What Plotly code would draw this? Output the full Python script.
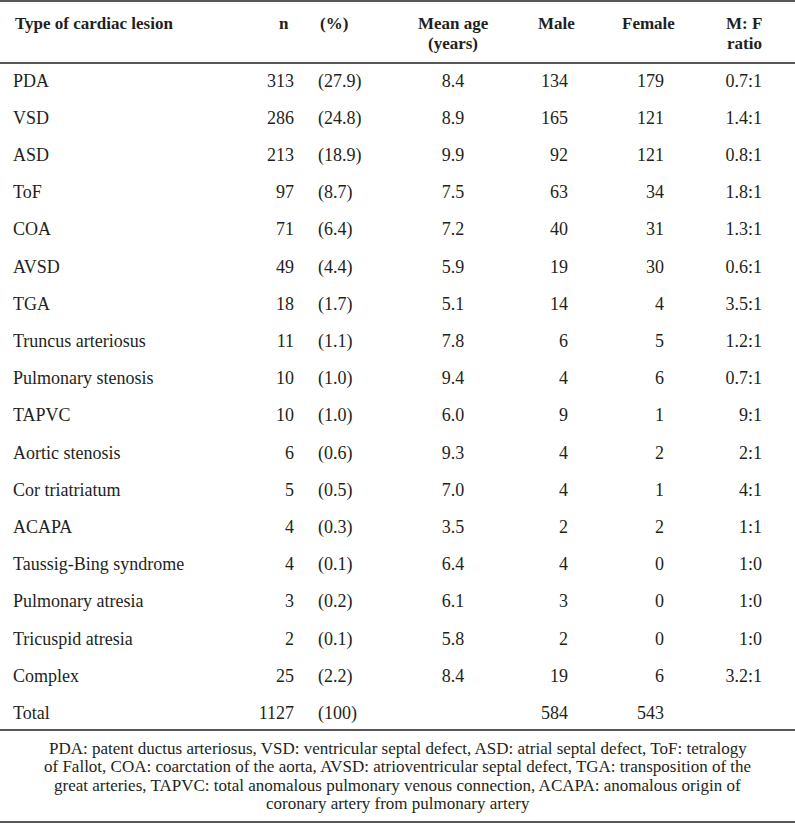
import plotly.graph_objects as go

lesions = ["PDA", "VSD", "ASD", "ToF", "COA", "AVSD", "TGA", "Truncus arteriosus",
           "Pulmonary stenosis", "TAPVC", "Aortic stenosis", "Cor triatriatum", "ACAPA",
           "Taussig-Bing syndrome", "Pulmonary atresia", "Tricuspid atresia", "Complex", "Total"]
n_cases = [313, 286, 213, 97, 71, 49, 18, 11, 10, 10, 6, 5, 4, 4, 3, 2, 25, 1127]
pct = ["(27.9)", "(24.8)", "(18.9)", "(8.7)", "(6.4)", "(4.4)", "(1.7)", "(1.1)", "(1.0)",
       "(1.0)", "(0.6)", "(0.5)", "(0.3)", "(0.1)", "(0.2)", "(0.1)", "(2.2)", "(100)"]
mean_age = ["8.4", "8.9", "9.9", "7.5", "7.2", "5.9", "5.1", "7.8", "9.4", "6.0", "9.3",
            "7.0", "3.5", "6.4", "6.1", "5.8", "8.4", ""]
male = [134, 165, 92, 63, 40, 19, 14, 6, 4, 9, 4, 4, 2, 4, 3, 2, 19, 584]
female = [179, 121, 121, 34, 31, 30, 4, 5, 6, 1, 2, 1, 2, 0, 0, 0, 6, 543]
ratio = ["0.7:1", "1.4:1", "0.8:1", "1.8:1", "1.3:1", "0.6:1", "3.5:1", "1.2:1", "0.7:1",
         "9:1", "2:1", "4:1", "1:1", "1:0", "1:0", "1:0", "3.2:1", ""]

headers = [["Type of cardiac lesion"], ["n"], ["(%)"], ["Mean age", "(years)"],
           ["Male"], ["Female"], ["M: F", "ratio"]]

footnote = [
    "PDA: patent ductus arteriosus, VSD: ventricular septal defect, ASD: atrial septal defect, ToF: tetralogy",
    "of Fallot, COA: coarctation of the aorta, AVSD: atrioventricular septal defect, TGA: transposition of the",
    "great arteries, TAPVC: total anomalous pulmonary venous connection, ACAPA: anomalous origin of",
    "coronary artery from pulmonary artery",
]

FONT = "Liberation Serif"
INK = "#231f20"
W, H = 795, 832
ROW0, ROWH = 82, 37.2

rows = list(range(len(lesions)))
ypix = [ROW0 + ROWH * i for i in rows]

fig = go.Figure()

def col(x, texts, pos):
    fig.add_trace(go.Scatter(
        x=[x] * len(texts), y=ypix, mode="text", text=[str(t) for t in texts],
        textposition=pos, textfont=dict(family=FONT, size=18, color=INK),
        hoverinfo="skip", showlegend=False, cliponaxis=False))

col(13, lesions, "middle right")
col(294, n_cases, "middle left")
col(318, pct, "middle right")
col(453, mean_age, "middle center")
col(568, male, "middle left")
col(664, female, "middle left")
col(762, ratio, "middle left")

# header
hdr_specs = [(13, "left"), (291, "right"), (318, "left"), (453, "center"),
             (556, "center"), (648, "center"), (764, "right")]
for (x, align), lines in zip(hdr_specs, headers):
    for k, line in enumerate(lines):
        fig.add_annotation(x=x, y=23 + 20 * k, text="<b>%s</b>" % line, showarrow=False,
                           xanchor=align, yanchor="middle",
                           font=dict(family=FONT, size=17, color=INK))

for k, line in enumerate(footnote):
    fig.add_annotation(x=W / 2, y=748 + 18.5 * k, text=line, showarrow=False,
                       xanchor="center", yanchor="middle",
                       font=dict(family=FONT, size=17, color=INK))

for yl in [1, 63, 730, 822]:
    fig.add_shape(type="line", x0=0, x1=W, y0=yl, y1=yl,
                  line=dict(color=INK, width=1.5))

fig.update_layout(
    width=W, height=H, margin=dict(l=0, r=0, t=0, b=0),
    paper_bgcolor="white", plot_bgcolor="white",
    xaxis=dict(range=[0, W], visible=False, fixedrange=True),
    yaxis=dict(range=[H, 0], visible=False, fixedrange=True),
)

fig.write_html("out.html", config={"displayModeBar": False, "staticPlot": True},
               post_script="document.body.style.margin='0';")
